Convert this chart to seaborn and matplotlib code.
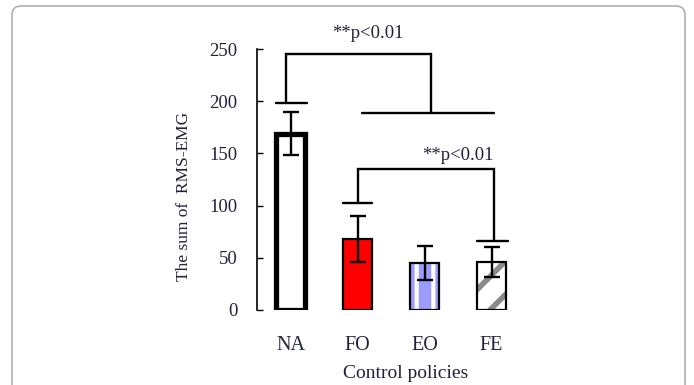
import matplotlib
matplotlib.use("Agg")
import matplotlib.pyplot as plt
import matplotlib.transforms as mtransforms
from matplotlib.patches import Rectangle, FancyBboxPatch
import seaborn as sns

# ---- data ----
categories = ["NA", "FO", "EO", "FE"]
means = [169, 68, 45, 46]
errors = [21, 22, 16, 14]
yticks = [0, 50, 100, 150, 200, 250]
sig_labels = ["**p<0.01", "**p<0.01"]
# significance brackets: top level, leg x positions, leg bottom levels,
# cap spans (left cap, right cap) and label position
sig_top = [245, 135]
sig_leg_x = [(-0.06, 2.1), (1.01, 3.03)]
sig_leg_bottom = [(198, 189), (102.5, 66)]
sig_caps = [((-0.21, 0.25), (1.06, 3.03)), ((0.79, 1.22), (2.79, 3.25))]
sig_text_pos = [(1.15, 265), (2.5, 148)]

# ---- style ----
sns.set_theme(style="white")
plt.rcParams['font.family'] = ['Liberation Serif', 'DejaVu Serif']
plt.rcParams['hatch.linewidth'] = 4.0

text_color = '#22223a'

fig = plt.figure(figsize=(6.94, 3.85), dpi=100)

# outer rounded frame (pixel coordinates)
frame = FancyBboxPatch((12, -30), 673, 409,
                       boxstyle="round,pad=0,rounding_size=9",
                       transform=mtransforms.IdentityTransform(),
                       facecolor='none', edgecolor='#b0b0b0', linewidth=1.2)
fig.patches.append(frame)

ax = fig.add_axes([257 / 694, 75 / 385, 268 / 694, 261 / 385])

palette = {"NA": "white", "FO": "#ff0000", "EO": "white", "FE": "white"}
sns.barplot(x=categories, y=means, hue=categories, palette=palette,
            width=0.42, ax=ax, legend=False, edgecolor='black',
            linewidth=1.5, saturation=1)

hatch_style = {"EO": ('|', '#9c9cff', 9.0), "FE": ('/', '#8a8a8a', 4.0)}

bars = [p for p in ax.patches if isinstance(p, Rectangle)]
for cat, p in zip(categories, bars):
    if cat == "NA":
        p.set_linewidth(3.8)
        p.set_edgecolor('black')
    elif cat == "FO":
        p.set_linewidth(1.6)
    elif cat in hatch_style:
        h, hcol, hlw = hatch_style[cat]
        p.set_facecolor('white')
        p.set_edgecolor(hcol)
        p.set_hatch(h)
        if hasattr(p, 'set_hatch_linewidth'):
            p.set_hatch_linewidth(hlw)
        p.set_linewidth(0)
        ax.add_patch(Rectangle((p.get_x(), p.get_y()), p.get_width(),
                               p.get_height(), fill=False,
                               edgecolor='black', linewidth=1.6, zorder=3))

ax.errorbar(range(len(categories)), means, yerr=errors, fmt='none',
            ecolor='black', elinewidth=1.7, capsize=6, capthick=1.7,
            zorder=5)

lw = 1.7
for top, (xl, xr), (bl, br), ((c1a, c1b), (c2a, c2b)) in zip(
        sig_top, sig_leg_x, sig_leg_bottom, sig_caps):
    ax.plot([xl, xl, xr, xr], [bl, top, top, br], color='black', lw=lw,
            clip_on=False, solid_joinstyle='miter', zorder=6)
    ax.plot([c1a, c1b], [bl, bl], color='black', lw=lw, clip_on=False, zorder=6)
    ax.plot([c2a, c2b], [br, br], color='black', lw=lw, clip_on=False, zorder=6)

for lab, (tx, ty) in zip(sig_labels, sig_text_pos):
    ax.text(tx, ty, lab, ha='center', va='center', fontsize=13.5,
            color=text_color, clip_on=False)

ax.set_xlim(-0.5, 3.5)
ax.set_ylim(0, 250)
ax.set_yticks(yticks)
ax.set_xticks(range(len(categories)))
ax.set_xticklabels(categories)
ax.tick_params(axis='y', direction='in', length=4, width=1, pad=14,
               labelsize=13.5, labelcolor=text_color, color='black', left=True)
ax.tick_params(axis='x', length=0, pad=19, labelsize=14.5,
               labelcolor=text_color)
for s in ['top', 'right', 'bottom']:
    ax.spines[s].set_visible(False)
ax.spines['left'].set_color('black')
ax.spines['left'].set_linewidth(1.2)
ax.set_xlabel('')
ax.set_ylabel('')

fig.text(184 / 694, 1 - 196 / 385, 'The sum of  RMS-EMG', rotation=90,
         ha='center', va='center', fontsize=12.5, color=text_color)
fig.text(406 / 694, 1 - 373 / 385, 'Control policies', ha='center',
         va='center', fontsize=14, color=text_color)

fig.savefig('out.png', dpi=100)
